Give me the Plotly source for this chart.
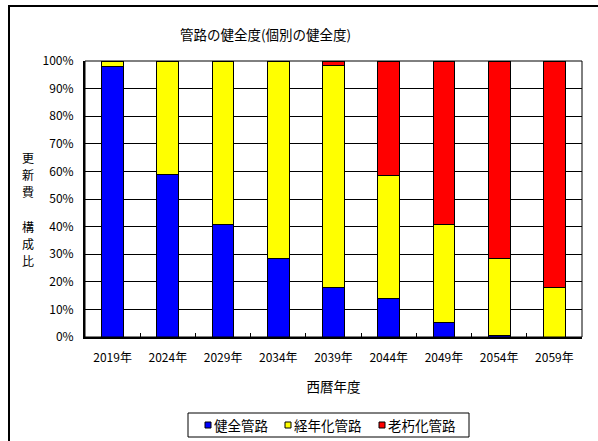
import plotly.graph_objects as go

years = ["2019年", "2024年", "2029年", "2034年", "2039年", "2044年", "2049年", "2054年", "2059年"]
healthy = [98.0, 58.7, 40.9, 28.5, 18.0, 14.0, 5.2, 0.7, 0.0]
aging = [2.0, 41.3, 59.1, 71.5, 80.2, 44.6, 35.7, 27.6, 17.9]
old = [0.0, 0.0, 0.0, 0.0, 1.8, 41.4, 59.1, 71.7, 82.1]

series_names = ["健全管路", "経年化管路", "老朽化管路"]
series_colors = ["#0000FF", "#FFFF00", "#FF0000"]
series_values = [healthy, aging, old]

title_text = "管路の健全度(個別の健全度)"
x_title = "西暦年度"
y_title_chars = ["更", "新", "費", "構", "成", "比"]

FONT = "Noto Sans CJK JP"

fig = go.Figure()
for name, color, vals in zip(series_names, series_colors, series_values):
    fig.add_trace(go.Bar(
        x=years, y=vals, name=name, showlegend=False,
        marker=dict(color=color, line=dict(color="#000000", width=1)),
    ))

L, R, T, B = 85, 582, 61, 337
W, H = 598, 441
pw, ph = R - L, B - T

def px(x):
    return (x - L) / pw

def py(y):
    return (B - y) / ph

shapes = [
    dict(type="rect", xref="paper", yref="paper", x0=0, x1=1, y0=0, y1=1,
         line=dict(color="#000000", width=1), layer="above"),
    dict(type="rect", xref="paper", yref="paper",
         x0=px(9), x1=px(620), y0=py(470), y1=py(6),
         line=dict(color="#000000", width=2)),
    # legend box
    dict(type="rect", xref="paper", yref="paper",
         x0=px(188), x1=px(469), y0=py(437), y1=py(413),
         line=dict(color="#000000", width=1), fillcolor="white"),
]
annotations = [
    dict(text=title_text, xref="paper", yref="paper",
         x=px(265), y=py(34), xanchor="center", yanchor="middle",
         showarrow=False, font=dict(size=13.5)),
]
for ch, yy in zip(y_title_chars, [157, 174, 191, 226, 243, 260]):
    annotations.append(dict(text=ch, xref="paper", yref="paper",
                            x=px(28), y=py(yy), xanchor="center", yanchor="middle",
                            showarrow=False, font=dict(size=12), borderpad=0))

# manual legend entries
leg_sq_x = [205, 285, 379]
for name, color, sx in zip(series_names, series_colors, leg_sq_x):
    shapes.append(dict(type="rect", xref="paper", yref="paper",
                       x0=px(sx), x1=px(sx + 6), y0=py(428), y1=py(422),
                       line=dict(color="#000000", width=1), fillcolor=color))
    annotations.append(dict(text=name, xref="paper", yref="paper",
                            x=px(sx + 7), y=py(425), xanchor="left", yanchor="middle",
                            showarrow=False, font=dict(size=13.5)))

fig.update_layout(
    width=W, height=H,
    margin=dict(l=L, r=W - R, t=T, b=H - B, autoexpand=False),
    barmode="stack",
    bargap=0.607,
    plot_bgcolor="white",
    paper_bgcolor="white",
    font=dict(family=FONT, size=12, color="#000000"),
    showlegend=False,
    xaxis=dict(
        showline=True, linecolor="#000000", linewidth=2,
        ticks="inside", ticklen=4, tickcolor="#000000", tickson="boundaries",
        showgrid=False,
        tickfont=dict(size=12),
        ticklabelstandoff=9,
        title=dict(text=x_title, font=dict(size=13.5), standoff=18),
        fixedrange=True,
    ),
    yaxis=dict(
        range=[0, 100], dtick=10, ticksuffix="%",
        showline=True, linecolor="#000000", linewidth=2,
        showgrid=True, gridcolor="#000000", gridwidth=1,
        ticks="", tickfont=dict(size=12),
        ticklabelstandoff=7,
        zeroline=False,
        fixedrange=True,
    ),
    shapes=shapes,
    annotations=annotations,
)

fig.write_html("out.html", config={"displayModeBar": False},
               post_script="document.body.style.margin='0';document.body.style.padding='0';")
